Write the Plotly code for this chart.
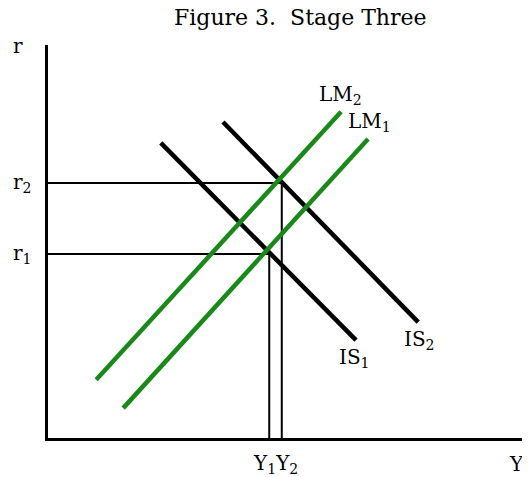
import plotly.graph_objects as go

# Curve endpoints (arbitrary units 0-10)
lm1_x = [1.56, 6.64]
lm1_y = [0.76, 7.61]
lm2_x = [1.00, 6.08]
lm2_y = [1.48, 8.30]
is1_x = [2.34, 6.39]
is1_y = [7.51, 2.49]
is2_x = [3.63, 7.68]
is2_y = [8.04, 2.95]

# Equilibria
r_vals = [4.68, 6.49]   # r1, r2
y_vals = [4.59, 4.85]   # Y1, Y2
r_labels = ["r<sub>1</sub>", "r<sub>2</sub>"]

FONT = "DejaVu Serif"
GREEN = "#178a17"

fig = go.Figure()

# guide lines
for r, yv in zip(r_vals, y_vals):
    fig.add_trace(go.Scatter(x=[0, yv], y=[r, r], mode="lines",
                             line=dict(color="black", width=2), hoverinfo="skip"))
    fig.add_trace(go.Scatter(x=[yv, yv], y=[0, r], mode="lines",
                             line=dict(color="black", width=2), hoverinfo="skip"))

for xs, ys in [(is1_x, is1_y), (is2_x, is2_y)]:
    fig.add_trace(go.Scatter(x=xs, y=ys, mode="lines",
                             line=dict(color="black", width=4.5), hoverinfo="skip"))
for xs, ys in [(lm1_x, lm1_y), (lm2_x, lm2_y)]:
    fig.add_trace(go.Scatter(x=xs, y=ys, mode="lines",
                             line=dict(color=GREEN, width=4.5), hoverinfo="skip"))

def lab(t, x, y, xref="x", yref="y", size=20):
    fig.add_annotation(x=x, y=y, xref=xref, yref=yref, text=t, showarrow=False,
                       font=dict(family=FONT, size=size, color="black"),
                       xanchor="center", yanchor="middle")

lab("LM<sub>2</sub>", 6.06, 8.73)
lab("LM<sub>1</sub>", 6.68, 8.04)
lab("IS<sub>1</sub>", 6.35, 2.04)
lab("IS<sub>2</sub>", 7.70, 2.49)
lab("r", -0.062, 0.997, "paper", "paper")
for t, r in zip(r_labels, r_vals):
    lab(t, -0.054, r, "paper", "y")
lab("Y<sub>1</sub>Y<sub>2</sub>", sum(y_vals) / 2, -0.066, "x", "paper")
lab("Y", 0.972, -0.066, "paper", "paper")

lab("Figure 3.  Stage Three", 0.523, 1.071, "paper", "paper", size=22)

# page body has an 8px margin; compensate so the plot lands where the reference has it
fig.update_layout(
    width=522, height=469,
    margin=dict(l=40, r=0, t=37, b=39),
    paper_bgcolor="white", plot_bgcolor="white",
    showlegend=False,
    xaxis=dict(range=[0, 10], showgrid=False, zeroline=False, showticklabels=False,
               ticks="", showline=True, linecolor="black", linewidth=3, fixedrange=True),
    yaxis=dict(range=[0, 10], showgrid=False, zeroline=False, showticklabels=False,
               ticks="", showline=True, linecolor="black", linewidth=3, fixedrange=True),
)

fig.write_html("out.html")
